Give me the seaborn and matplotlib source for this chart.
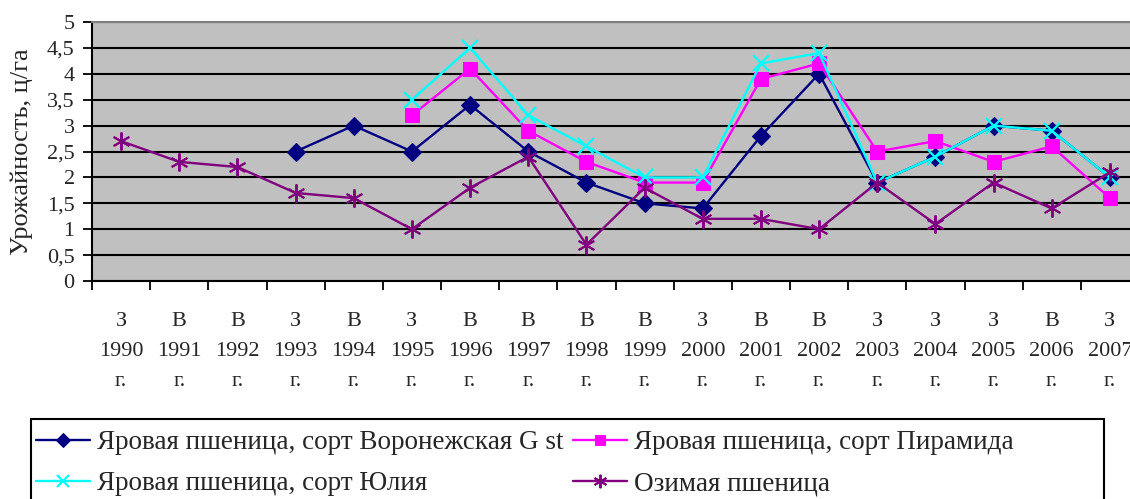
import matplotlib
matplotlib.use('Agg')
import matplotlib.pyplot as plt
import numpy as np
import pandas as pd
import seaborn as sns
from matplotlib.patches import Rectangle

# data
seasons = ['З', 'В', 'В', 'З', 'В', 'З', 'В', 'В', 'В', 'В', 'З', 'В', 'В', 'З', 'З', 'З', 'В', 'З']
years = list(range(1990, 2008))
voronezh = [None, None, None, 2.5, 3.0, 2.5, 3.4, 2.5, 1.9, 1.5, 1.4, 2.8, 4.0, 1.9, 2.4, 3.0, 2.9, 2.0]
piramida = [None, None, None, None, None, 3.2, 4.1, 2.9, 2.3, 1.9, 1.9, 3.9, 4.2, 2.5, 2.7, 2.3, 2.6, 1.6]
yulia = [None, None, None, None, None, 3.5, 4.5, 3.2, 2.6, 2.0, 2.0, 4.2, 4.4, 1.9, 2.4, 3.0, 2.9, 2.0]
ozimaya = [2.7, 2.3, 2.2, 1.7, 1.6, 1.0, 1.8, 2.4, 0.7, 1.8, 1.2, 1.2, 1.0, 1.9, 1.1, 1.9, 1.4, 2.1]

names = ['Яровая пшеница, сорт Воронежская G st',
         'Яровая пшеница, сорт Пирамида',
         'Яровая пшеница, сорт Юлия',
         'Озимая пшеница']

sns.set_style('white')
plt.rcParams['font.family'] = ['Liberation Serif', 'DejaVu Serif']
plt.rcParams['font.size'] = 16

df = pd.DataFrame({'pos': np.arange(len(years)),
                   names[0]: voronezh, names[1]: piramida,
                   names[2]: yulia, names[3]: ozimaya})

fig = plt.figure(figsize=(11.3, 4.99), dpi=100)
ax = fig.add_axes([92 / 1130, 218 / 499, 1047 / 1130, 259 / 499])
ax.set_facecolor('#C0C0C0')

styles = [
    dict(color='#000080', marker='D', markersize=9),
    dict(color='#FF00FF', marker='s', markersize=10.5),
    dict(color='#00FFFF', marker='x', markersize=11, markeredgewidth=1.6),
    dict(color='#800080', marker=(6, 2, 0), markersize=13, markeredgewidth=1.4),
]
handles = []
for name, st in zip(names, styles):
    sub = df[['pos', name]].dropna()
    sns.lineplot(x=sub['pos'], y=sub[name], ax=ax, linewidth=1.7,
                 markeredgecolor=st['color'], label=name, legend=False, **st)
    handles.append(ax.lines[-1])

ax.set_xlim(-0.5, len(years) - 0.5)
ax.set_ylim(0, 5)
yt = np.arange(0, 5.01, 0.5)
ax.set_yticks(yt)
ax.set_yticklabels([('%g' % v).replace('.', ',') for v in yt])
ax.yaxis.grid(True, color='black', linewidth=1.5)
ax.set_axisbelow(True)

ax.set_xticks(np.arange(len(years)))
ax.set_xticklabels([f'{s}\n{y}\nг.' for s, y in zip(seasons, years)], linespacing=1.8)
ax.set_xticks(np.arange(len(years) + 1) - 0.5, minor=True)
ax.tick_params(axis='x', which='major', length=0, pad=22)
ax.tick_params(axis='x', which='minor', length=6.5, width=1.3, color='black', direction='out', bottom=True)
ax.tick_params(axis='y', length=6.5, width=1.3, color='black', direction='out', left=True, pad=6)

for side in ['left', 'bottom']:
    ax.spines[side].set_color('black')
    ax.spines[side].set_linewidth(1.5)
ax.spines['top'].set_color('#808080')
ax.spines['top'].set_linewidth(1.5)
ax.spines['right'].set_visible(False)

ax.set_xlabel('')
ax.set_ylabel('Урожайность, ц/га', fontsize=19)
ax.yaxis.set_label_coords(-0.056, 0.5)

order = [0, 2, 1, 3]
leg = fig.legend([handles[i] for i in order], [names[i] for i in order],
                 ncol=2, loc='upper left', bbox_to_anchor=(36 / 1130, 1 - 430 / 499),
                 frameon=False, fontsize=19.5, handlelength=2.0, handletextpad=0.25,
                 columnspacing=0.35, labelspacing=0.6, borderpad=0, borderaxespad=0,
                 markerscale=0.75)
fig.patches.append(Rectangle((31 / 1130, -0.05), (1104 - 31) / 1130, (499 - 419) / 499 + 0.05,
                             transform=fig.transFigure, fill=False, edgecolor='black', linewidth=1.5))

fig.savefig('out.png', dpi=100)
